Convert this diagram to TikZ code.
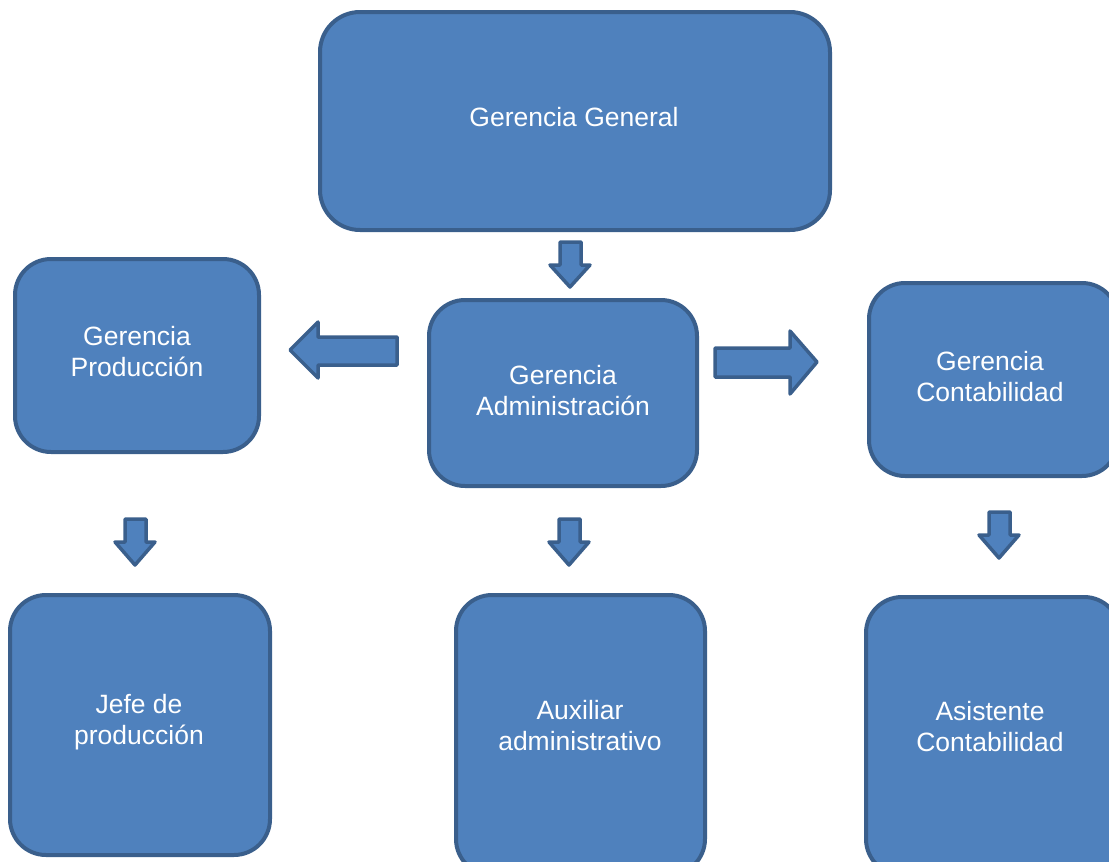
\documentclass[tikz,border=0pt]{standalone}
\usepackage{fontspec}
\setmainfont{Liberation Sans}
\definecolor{boxfill}{HTML}{4F81BD}
\definecolor{boxline}{HTML}{3A5F8C}
\begin{document}
\begin{tikzpicture}[x=1pt,y=-1pt,
  orgbox/.style={draw=boxline,fill=boxfill,line width=4pt,rounded corners=36pt},
  lbl/.style={text=white,align=center,font=\fontsize{26.5}{31}\selectfont},
  blockarrow/.style={draw=boxline,fill=boxfill,line width=3.5pt,line join=round}]
\useasboundingbox (0,0) rectangle (1109,862);
\clip (0,0) rectangle (1109,862);
% boxes
\draw[orgbox,rounded corners=40pt] (320,12) rectangle (830,230);
\node[lbl] (gg) at (574,117) {Gerencia General};
\draw[orgbox] (15,259) rectangle (259,452);
\node[lbl] (gp) at (137,352) {Gerencia\\Producción};
\draw[orgbox] (429,300) rectangle (697,486);
\node[lbl] (ga) at (563,391) {Gerencia\\Administración};
\draw[orgbox] (869,283) rectangle (1118,476);
\node[lbl] (gc) at (990,377) {Gerencia\\Contabilidad};
\draw[orgbox] (10,595) rectangle (270,855);
\node[lbl] (jp) at (139,722) {Jefe de\\producción};
\draw[orgbox] (456,595) rectangle (705,875);
\node[lbl] (ax) at (580,726) {Auxiliar\\administrativo};
\draw[orgbox] (866,597) rectangle (1120,875);
\node[lbl] (as) at (990,727) {Asistente\\Contabilidad};
% block arrows
\draw[blockarrow] (560,242) -- (581,242) -- (581,265) -- (590,265) -- (570,287) -- (550,265) -- (560,265) -- cycle;
\draw[blockarrow] (397,337) -- (318,337) -- (318,322) -- (290,350) -- (318,378) -- (318,365) -- (397,365) -- cycle;
\draw[blockarrow] (715,348) -- (790,348) -- (790,331) -- (817,362) -- (790,394) -- (790,377) -- (715,377) -- cycle;
\draw[blockarrow] (125,519) -- (146,519) -- (146,542) -- (155,542) -- (135,565) -- (115,542) -- (125,542) -- cycle;
\draw[blockarrow] (559,519) -- (580,519) -- (580,542) -- (589,542) -- (569,565) -- (549,542) -- (559,542) -- cycle;
\draw[blockarrow] (989,512) -- (1010,512) -- (1010,535) -- (1019,535) -- (999,558) -- (979,535) -- (989,535) -- cycle;
\end{tikzpicture}
\end{document}
